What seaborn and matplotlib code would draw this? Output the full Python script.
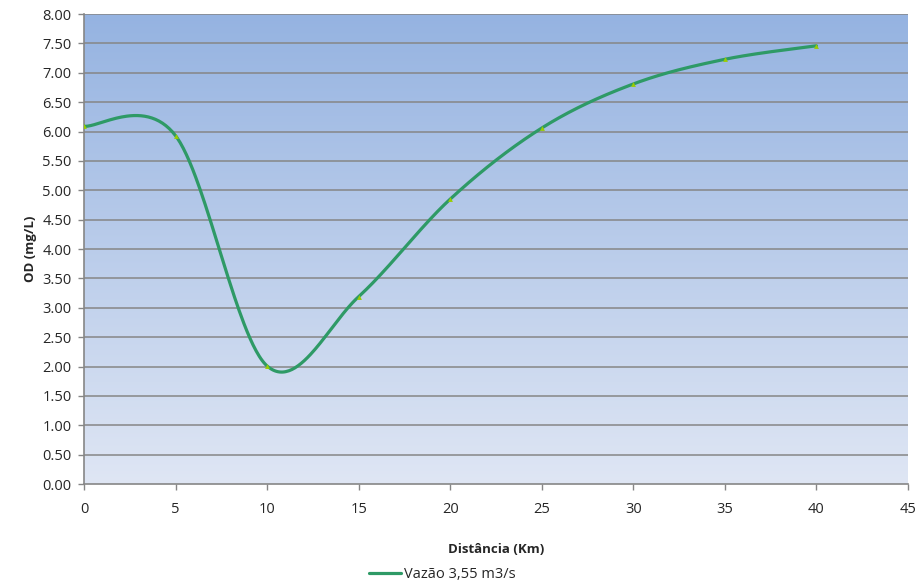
import numpy as np
import pandas as pd
import matplotlib
matplotlib.use("Agg")
import matplotlib.pyplot as plt
from matplotlib.colors import LinearSegmentedColormap
import seaborn as sns

# Dissolved oxygen profile along the river
distancia = [0, 5, 10, 15, 20, 25, 30, 35, 40]
od = [6.09, 5.93, 2.01, 3.19, 4.85, 6.06, 6.81, 7.23, 7.46]
serie = "Vazão 3,55 m3/s"
y_ticks = np.arange(0, 8.01, 0.5)
x_ticks = np.arange(0, 46, 5)


def smooth_curve(xs, ys, n=60):
    """Bezier smoothing through every point (Catmull-Rom style control points)."""
    pts = np.column_stack([xs, ys]).astype(float)
    out = []
    m = len(pts)
    for i in range(m - 1):
        p0 = pts[i - 1] if i > 0 else pts[i]
        p1 = pts[i]
        p2 = pts[i + 1]
        p3 = pts[i + 2] if i + 2 < m else pts[i + 1]
        c1 = p1 + (p2 - p0) / 6.0
        c2 = p2 - (p3 - p1) / 6.0
        t = np.linspace(0, 1, n)[:, None]
        seg = ((1 - t) ** 3) * p1 + 3 * ((1 - t) ** 2) * t * c1 + 3 * (1 - t) * t ** 2 * c2 + t ** 3 * p2
        out.append(seg if i == 0 else seg[1:])
    arr = np.vstack(out)
    return arr[:, 0], arr[:, 1]


sx, sy = smooth_curve(distancia, od)
curve = pd.DataFrame({"Distância": sx, "OD": sy})
pontos = pd.DataFrame({"Distância": distancia, "OD": od})

sns.set_theme(style="white")
plt.rcParams["font.family"] = ["Open Sans", "DejaVu Sans"]

fig = plt.figure(figsize=(9.15, 5.86), dpi=100)
ax = fig.add_axes([0.0918, 0.174, 0.9005, 0.802])

# vertical gradient background of the plot area
cmap = LinearSegmentedColormap.from_list("bg", ["#dfe6f4", "#95b3e1"])
grad = np.linspace(0, 1, 256).reshape(-1, 1)
ax.imshow(grad, extent=[0, 45, 0, 8], origin="lower", aspect="auto", cmap=cmap, zorder=0)

for yv in y_ticks[1:]:
    ax.axhline(yv, color="#868686", lw=1.1, zorder=1)

sns.lineplot(data=curve, x="Distância", y="OD", color="#2e9a66", lw=2.3, ax=ax,
             sort=False, zorder=3, label=serie)
ax.scatter(pontos["Distância"], pontos["OD"], marker="^", s=12, color="#99cc00",
           zorder=4, linewidths=0)

ax.set_xlim(0, 45)
ax.set_ylim(0, 8)
ax.set_xticks(x_ticks)
ax.set_yticks(y_ticks)
ax.set_yticklabels([f"{v:.2f}" for v in y_ticks], fontsize=10.5)
ax.set_xticklabels([str(v) for v in x_ticks], fontsize=10.5)
ax.tick_params(axis="both", direction="out", length=4, color="#868686", width=1,
               bottom=True, left=True, pad=5)
ax.tick_params(axis="x", pad=9)

for side in ["top", "right"]:
    ax.spines[side].set_visible(False)
for side in ["left", "bottom"]:
    ax.spines[side].set_color("#868686")
    ax.spines[side].set_linewidth(1.2)

ax.set_xlabel("Distância (Km)", fontsize=9.5, fontweight="bold", labelpad=19)
ax.set_ylabel("OD (mg/L)", fontsize=9.5, fontweight="bold", labelpad=4)

handles, labels = ax.get_legend_handles_labels()
ax.get_legend().remove()
fig.legend(handles, labels, loc="center", bbox_to_anchor=(0.483, 0.02),
           bbox_transform=fig.transFigure, frameon=False, fontsize=10.5,
           handlelength=2.2, handletextpad=0.2, borderpad=0.1)

fig.savefig("out.png", dpi=100)
